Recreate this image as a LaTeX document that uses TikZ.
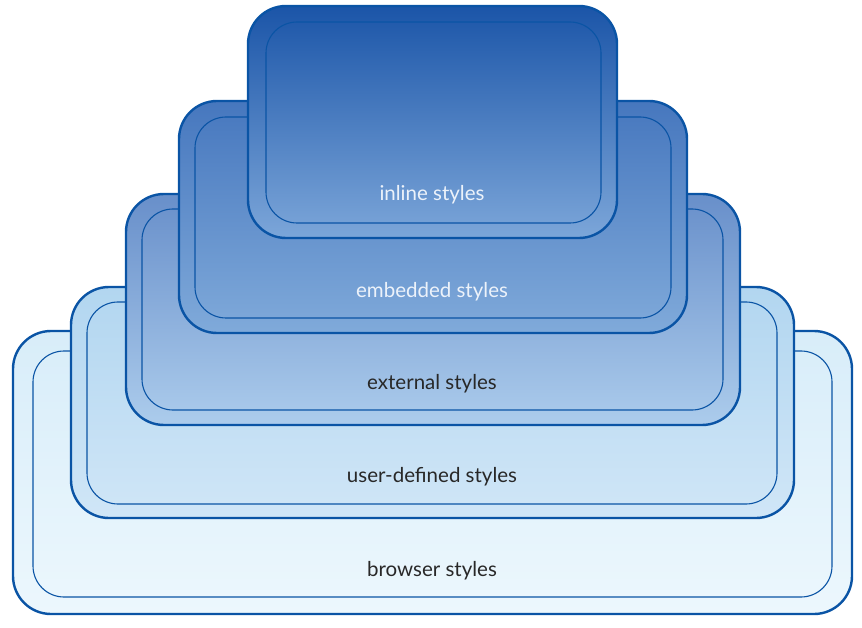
\documentclass[tikz,border=0pt]{standalone}
\usepackage{fontspec}
\setmainfont{Lato}
\usepackage{tikz}
\usetikzlibrary{calc}

\definecolor{boxline}{RGB}{10,84,165}
\definecolor{labeldark}{RGB}{40,40,40}
\definecolor{labellight}{RGB}{236,242,250}

\tikzset{
  outerbox/.style={draw=boxline, line width=2.4pt, rounded corners=38pt},
  innerbox/.style={draw=boxline, line width=1.1pt, rounded corners=31pt},
  boxlabel/.style={font=\fontsize{20.5}{24}\selectfont, anchor=base, inner sep=0pt},
}

\begin{document}
\begin{tikzpicture}[x=1pt,y=-1pt]
  \useasboundingbox (0,0) rectangle (862,628);
  % browser styles
  \coordinate (b1) at (13,331);
  \coordinate (b2) at (852,614);
  \shadedraw [outerbox, top color={rgb,255:red,216;green,237;blue,249}, bottom color={rgb,255:red,236;green,247;blue,253}] (b1) rectangle (b2);
  \draw [innerbox] ($(b1)+(20,20)$) rectangle ($(b2)+(-20,-17)$);
  \node [boxlabel, text=labeldark] (browser) at (432,576) {browser styles};
  % user-defined styles
  \coordinate (u1) at (71,287);
  \coordinate (u2) at (794,518);
  \shadedraw [outerbox, top color={rgb,255:red,178;green,214;blue,240}, bottom color={rgb,255:red,208;green,230;blue,247}] (u1) rectangle (u2);
  \draw [innerbox] ($(u1)+(16,15)$) rectangle ($(u2)+(-17,-14)$);
  \node [boxlabel, text=labeldark] (userdef) at (432,482) {user-defined styles};
  % external styles
  \coordinate (e1) at (126,194);
  \coordinate (e2) at (740,425);
  \shadedraw [outerbox, top color={rgb,255:red,104;green,143;blue,202}, bottom color={rgb,255:red,172;green,204;blue,236}] (e1) rectangle (e2);
  \draw [innerbox] ($(e1)+(16,15)$) rectangle ($(e2)+(-17,-15)$);
  \node [boxlabel, text=labeldark] (external) at (432,389) {external styles};
  % embedded styles
  \coordinate (m1) at (179,101);
  \coordinate (m2) at (687,333);
  \shadedraw [outerbox, top color={rgb,255:red,70;green,119;blue,190}, bottom color={rgb,255:red,128;green,170;blue,218}] (m1) rectangle (m2);
  \draw [innerbox] ($(m1)+(16,16)$) rectangle ($(m2)+(-16,-15)$);
  \node [boxlabel, text=labellight] (embedded) at (432,298) {embedded styles};
  % inline styles
  \coordinate (i1) at (248,6);
  \coordinate (i2) at (617,238);
  \shadedraw [outerbox, top color={rgb,255:red,27;green,85;blue,168}, middle color={rgb,255:red,52;green,108;blue,182}, bottom color={rgb,255:red,124;green,166;blue,217}] (i1) rectangle (i2);
  \draw [innerbox] ($(i1)+(18,16)$) rectangle ($(i2)+(-16,-15)$);
  \node [boxlabel, text=labellight] (inline) at (432,201) {inline styles};
\end{tikzpicture}
\end{document}
